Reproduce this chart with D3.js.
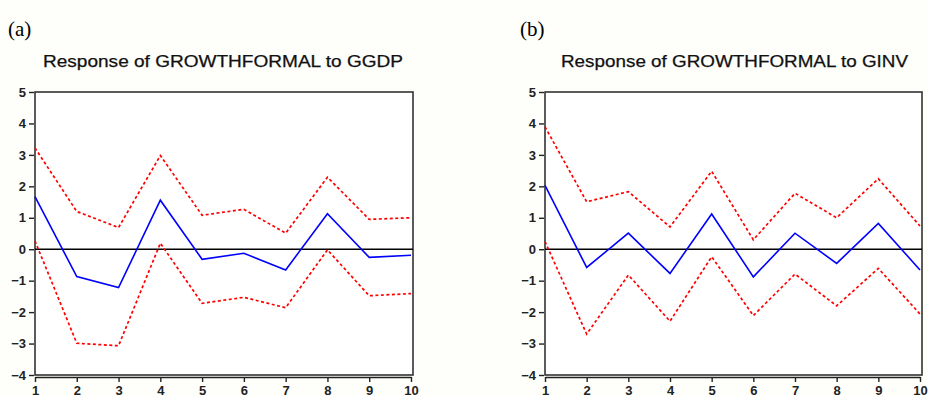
<!DOCTYPE html>
<html><head><meta charset="utf-8">
<script src="https://cdn.jsdelivr.net/npm/d3@7"></script>
<style>
html,body{margin:0;padding:0;background:#fefefb;}
svg{display:block;}
</style></head>
<body>
<svg id="chart" width="929" height="397"></svg>
<script>
const periods = [1,2,3,4,5,6,7,8,9,10];
const yTicks = [5,4,3,2,1,0,-1,-2,-3,-4];
const panelLabels = ["(a)", "(b)"];
const titles = ["Response of  GROWTHFORMAL to GGDP", "Response of GROWTHFORMAL to GINV"];

const ggdpResponse = [1.67,-0.87,-1.22,1.56,-0.32,-0.13,-0.66,1.13,-0.26,-0.19];
const ggdpUpper    = [3.22,1.20,0.69,2.98,1.08,1.27,0.51,2.29,0.95,1.00];
const ggdpLower    = [0.26,-2.99,-3.07,0.19,-1.72,-1.53,-1.86,-0.02,-1.48,-1.41];

const ginvResponse = [2.03,-0.58,0.51,-0.77,1.12,-0.88,0.51,-0.45,0.82,-0.66];
const ginvUpper    = [3.89,1.51,1.83,0.71,2.48,0.30,1.78,1.00,2.24,0.74];
const ginvLower    = [0.24,-2.70,-0.82,-2.29,-0.24,-2.11,-0.79,-1.80,-0.61,-2.06];

const panels = [
  {label: panelLabels[0], title: titles[0], resp: ggdpResponse, up: ggdpUpper, lo: ggdpLower, x0: 35, x1: 411, boxR: 413, labelX: 8, titleX: 43, titleW: 360},
  {label: panelLabels[1], title: titles[1], resp: ginvResponse, up: ginvUpper, lo: ginvLower, x0: 545, x1: 920, boxR: 922, labelX: 520, titleX: 561, titleW: 347}
];

const svg = d3.select("#chart");
const yTop = 92, yBot = 375;

panels.forEach(p => {
  const g = svg.append("g");
  const x = d3.scaleLinear().domain([1,10]).range([p.x0, p.x1]);
  const y = d3.scaleLinear().domain([-4,5]).range([yBot, yTop]);

  g.append("text").attr("x", p.labelX).attr("y", 36)
    .style("font-family", "'Liberation Serif','Times New Roman',serif")
    .style("font-size", "21px").attr("fill", "#000").text(p.label);

  g.append("text").attr("x", p.titleX).attr("y", 67)
    .attr("textLength", p.titleW).attr("lengthAdjust", "spacingAndGlyphs")
    .style("font-family", "'Liberation Sans',Arial,sans-serif")
    .style("font-size", "16px").attr("fill", "#111").attr("stroke", "#111").attr("stroke-width", 0.25)
    .text(p.title);

  g.append("rect").attr("x", p.x0).attr("y", yTop).attr("width", p.boxR - p.x0).attr("height", yBot - yTop)
    .attr("fill", "#fff").attr("stroke", "#333").attr("stroke-width", 1.6);

  const ya = g.append("g").attr("transform", `translate(${p.x0 - 1},0)`)
    .call(d3.axisLeft(y).tickValues(yTicks).tickSize(5).tickPadding(3).tickFormat(d3.format("d")));
  ya.select(".domain").remove();
  ya.selectAll(".tick line").attr("stroke", "#222").attr("stroke-width", 1.4);
  ya.selectAll(".tick text").style("font-family", "'Liberation Sans',Arial,sans-serif")
    .style("font-size", "13px").style("font-weight", "bold").attr("fill", "#222");

  const xa = g.append("g").attr("transform", `translate(0,${yBot + 2})`)
    .call(d3.axisBottom(x).tickValues(periods).tickSize(5).tickSizeOuter(0).tickPadding(4).tickFormat(d3.format("d")));
  xa.select(".domain").attr("stroke", "#222").attr("stroke-width", 1.4);
  xa.selectAll(".tick line").attr("stroke", "#222").attr("stroke-width", 1.4);
  xa.selectAll(".tick text").style("font-family", "'Liberation Sans',Arial,sans-serif")
    .style("font-size", "13px").style("font-weight", "bold").attr("fill", "#222");

  g.append("line").attr("x1", p.x0).attr("x2", p.boxR).attr("y1", y(0)).attr("y2", y(0))
    .attr("stroke", "#000").attr("stroke-width", 1.4);

  const line = d3.line().x((d,i) => x(periods[i])).y(d => y(d));

  [p.up, p.lo].forEach(s => {
    g.append("path").datum(s).attr("d", line).attr("fill", "none")
      .attr("stroke", "#ff0000").attr("stroke-width", 1.7).attr("stroke-dasharray", "3,2.5");
  });
  g.append("path").datum(p.resp).attr("d", line).attr("fill", "none")
    .attr("stroke", "#0000ff").attr("stroke-width", 1.6);
});
</script>
</body></html>
